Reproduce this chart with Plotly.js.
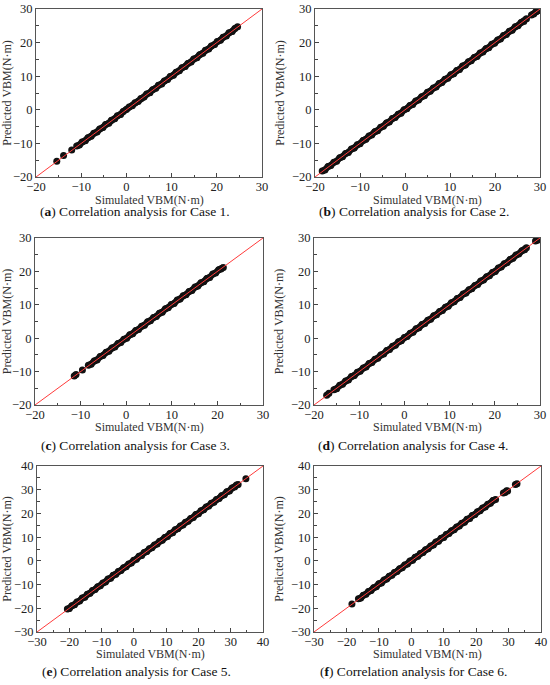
<!DOCTYPE html>
<html>
<head>
<meta charset="utf-8">
<script src="https://cdn.plot.ly/plotly-3.0.1.min.js"></script>
<style>html,body{margin:0;padding:0;background:#fff;}#chart{width:550px;height:685px;}</style>
</head>
<body>
<div id="chart"></div>
<script>
// ---- data ----
var caseLabels = ["a", "b", "c", "d", "e", "f"];
var caseNames = ["Case 1.", "Case 2.", "Case 3.", "Case 4.", "Case 5.", "Case 6."];
var axisRanges = [[-20, 30], [-20, 30], [-20, 30], [-20, 30], [-30, 40], [-30, 40]];

var sim1 = [-15.4,-13.9,-12.1,-11.0,-10.4,-9.8,-9.1,-8.5,-7.8,-7.2,-6.5,-5.9,-5.2,-4.6,-3.9,-3.3,-2.6,-2.0,-1.3,-0.7,0.0,0.6,1.3,1.9,2.6,3.2,3.9,4.5,5.2,5.8,6.5,7.1,7.8,8.4,9.1,9.7,10.4,11.0,11.7,12.3,13.0,13.6,14.3,14.9,15.6,16.2,16.9,17.5,18.2,18.8,19.5,20.1,20.8,21.4,22.1,22.7,23.4,24.0,24.6];
var pred1 = [-15.3,-13.6,-12.0,-10.8,-10.5,-9.6,-9.2,-8.3,-7.9,-7.0,-6.6,-5.7,-5.3,-4.4,-4.0,-3.1,-2.7,-1.8,-1.4,-0.5,0.1,0.8,1.2,2.1,2.5,3.4,3.8,4.7,5.1,6.0,6.4,7.3,7.7,8.6,9.0,9.9,10.3,11.2,11.6,12.5,12.9,13.8,14.2,15.1,15.5,16.4,16.8,17.7,18.1,19.0,19.4,20.3,20.7,21.6,22.0,22.9,23.3,24.2,24.7];

var sim2 = [-18.4,-17.8,-17.1,-16.5,-15.8,-15.2,-14.5,-13.9,-13.2,-12.6,-11.9,-11.3,-10.6,-10.0,-9.3,-8.7,-8.0,-7.4,-6.7,-6.1,-5.4,-4.8,-4.1,-3.5,-2.8,-2.2,-1.5,-0.9,-0.2,0.4,1.1,1.7,2.4,3.0,3.7,4.3,5.0,5.6,6.3,6.9,7.6,8.2,8.9,9.5,10.2,10.8,11.5,12.1,12.8,13.4,14.1,14.7,15.4,16.0,16.7,17.3,18.0,18.6,19.3,19.9,20.6,21.2,21.9,22.5,23.2,23.8,24.5,25.1,25.8,26.4,27.0,28.1,28.6,29.1,29.6];
var pred2 = [-18.2,-17.9,-16.9,-16.6,-15.6,-15.3,-14.3,-14.0,-13.0,-12.7,-11.7,-11.4,-10.4,-10.1,-9.1,-8.8,-7.8,-7.5,-6.5,-6.2,-5.2,-4.9,-3.9,-3.6,-2.6,-2.3,-1.3,-1.0,0.0,0.3,1.3,1.6,2.6,2.9,3.9,4.2,5.2,5.5,6.5,6.8,7.8,8.1,9.1,9.4,10.4,10.7,11.7,12.0,13.0,13.3,14.3,14.6,15.6,15.9,16.9,17.2,18.2,18.5,19.5,19.8,20.8,21.1,22.1,22.4,23.4,23.7,24.7,25.0,26.0,26.3,27.1,28.2,28.5,29.2,29.5];

var sim3 = [-11.4,-11.0,-9.6,-8.3,-7.7,-7.0,-6.4,-5.7,-5.1,-4.4,-3.8,-3.1,-2.5,-1.8,-1.2,-0.5,0.1,0.8,1.4,2.1,2.7,3.4,4.0,4.7,5.3,6.0,6.6,7.3,7.9,8.6,9.2,9.9,10.5,11.2,11.8,12.5,13.1,13.8,14.4,15.1,15.7,16.4,17.0,17.7,18.3,19.0,19.6,20.3,20.8,21.3];
var pred3 = [-11.3,-10.9,-9.5,-8.1,-7.8,-6.8,-6.5,-5.5,-5.2,-4.2,-3.9,-2.9,-2.6,-1.6,-1.3,-0.3,0.0,1.0,1.3,2.3,2.6,3.6,3.9,4.9,5.2,6.2,6.5,7.5,7.8,8.8,9.1,10.1,10.4,11.4,11.7,12.7,13.0,14.0,14.3,15.3,15.6,16.6,16.9,17.9,18.2,19.2,19.5,20.5,20.7,21.2];

var sim4 = [-17.2,-16.7,-15.6,-15.0,-14.3,-13.7,-13.0,-12.4,-11.7,-11.1,-10.4,-9.8,-9.1,-8.5,-7.8,-7.2,-6.5,-5.9,-5.2,-4.6,-3.9,-3.3,-2.6,-2.0,-1.3,-0.7,0.0,0.6,1.3,1.9,2.6,3.2,3.9,4.5,5.2,5.8,6.5,7.1,7.8,8.4,9.1,9.7,10.4,11.0,11.7,12.3,13.0,13.6,14.3,14.9,15.6,16.2,16.9,17.5,18.2,18.8,19.5,20.1,20.8,21.4,22.1,22.7,23.4,24.0,24.7,25.3,26.0,26.6,27.0,29.0,29.5];
var pred4 = [-17.1,-16.5,-15.4,-15.1,-14.1,-13.8,-12.8,-12.5,-11.5,-11.2,-10.2,-9.9,-8.9,-8.6,-7.6,-7.3,-6.3,-6.0,-5.0,-4.7,-3.7,-3.4,-2.4,-2.1,-1.1,-0.8,0.2,0.5,1.5,1.8,2.8,3.1,4.1,4.4,5.4,5.7,6.7,7.0,8.0,8.3,9.3,9.6,10.6,10.9,11.9,12.2,13.2,13.5,14.5,14.8,15.8,16.1,17.1,17.4,18.4,18.7,19.7,20.0,21.0,21.3,22.3,22.6,23.6,23.9,24.9,25.2,26.2,26.5,27.1,29.1,29.4];

var sim5 = [-20.6,-20.0,-19.2,-18.4,-17.6,-16.8,-16.0,-15.2,-14.4,-13.6,-12.8,-12.0,-11.2,-10.4,-9.6,-8.8,-8.0,-7.2,-6.4,-5.6,-4.8,-4.0,-3.2,-2.4,-1.6,-0.8,0.0,0.8,1.6,2.4,3.2,4.0,4.8,5.6,6.4,7.2,8.0,8.8,9.6,10.4,11.2,12.0,12.8,13.6,14.4,15.2,16.0,16.8,17.6,18.4,19.2,20.0,20.8,21.6,22.4,23.2,24.0,24.8,25.6,26.4,27.2,28.0,28.8,29.6,30.4,31.2,31.8,32.3,34.7];
var pred5 = [-20.3,-20.1,-18.9,-18.5,-17.3,-16.9,-15.7,-15.3,-14.1,-13.7,-12.5,-12.1,-10.9,-10.5,-9.3,-8.9,-7.7,-7.3,-6.1,-5.7,-4.5,-4.1,-2.9,-2.5,-1.3,-0.9,0.3,0.7,1.9,2.3,3.5,3.9,5.1,5.5,6.7,7.1,8.3,8.7,9.9,10.3,11.5,11.9,13.1,13.5,14.7,15.1,16.3,16.7,17.9,18.3,19.5,19.9,21.1,21.5,22.7,23.1,24.3,24.7,25.9,26.3,27.5,27.9,29.1,29.5,30.7,31.1,32.0,32.2,34.6];

var sim6 = [-18.3,-16.3,-15.6,-14.8,-14.0,-13.2,-12.4,-11.6,-10.8,-10.0,-9.2,-8.4,-7.6,-6.8,-6.0,-5.2,-4.4,-3.6,-2.8,-2.0,-1.2,-0.4,0.4,1.2,2.0,2.8,3.6,4.4,5.2,6.0,6.8,7.6,8.4,9.2,10.0,10.8,11.6,12.4,13.2,14.0,14.8,15.6,16.4,17.2,18.0,18.8,19.6,20.4,21.2,22.0,22.8,23.6,24.4,25.2,26.0,28.4,28.9,29.4,29.7,32.1,32.6];
var pred6 = [-18.2,-16.0,-15.7,-14.5,-14.1,-12.9,-12.5,-11.3,-10.9,-9.7,-9.3,-8.1,-7.7,-6.5,-6.1,-4.9,-4.5,-3.3,-2.9,-1.7,-1.3,-0.1,0.3,1.5,1.9,3.1,3.5,4.7,5.1,6.3,6.7,7.9,8.3,9.5,9.9,11.1,11.5,12.7,13.1,14.3,14.7,15.9,16.3,17.5,17.9,19.1,19.5,20.7,21.1,22.3,22.7,23.9,24.3,25.5,25.9,28.6,28.8,29.6,29.5,32.2,32.5];

var simulated = [sim1, sim2, sim3, sim4, sim5, sim6];
var predicted = [pred1, pred2, pred3, pred4, pred5, pred6];

var xTitle = "Simulated VBM(N·m)";
var yTitle = "Predicted VBM(N·m)";

// ---- layout geometry (pixels: left, right, top, bottom of each frame) ----
var W = 550, H = 685;
var frames = [
  [36, 262, 9, 177], [315, 540, 9, 177],
  [35, 263, 238, 405], [314, 540, 238, 405],
  [37, 263, 466, 632], [314, 541, 466, 632]
];
var captionY = [212, 212, 445, 445, 671, 671];
var xTitleOffset = [23, 23, 22, 22, 22, 22];

var FONT = "Liberation Serif";
var traces = [];
var layout = {
  width: W, height: H,
  margin: {l: 0, r: 0, t: 0, b: 0},
  paper_bgcolor: "#fff", plot_bgcolor: "#fff",
  showlegend: false,
  font: {family: FONT, size: 12, color: "#222"},
  annotations: []
};

// join the dense stretch of points into a band; break where consecutive points are far apart
function bandOf(xs, ys, maxStep) {
  var bx = [], by = [];
  for (var k = 0; k < xs.length; k++) {
    if (k > 0 && xs[k] - xs[k - 1] > maxStep) { bx.push(null); by.push(null); }
    bx.push(xs[k]); by.push(ys[k]);
  }
  return {x: bx, y: by};
}

for (var i = 0; i < 6; i++) {
  var n = i === 0 ? "" : String(i + 1);
  var f = frames[i];
  var axCommon = {
    range: axisRanges[i].slice(),
    dtick: 10, tick0: 0,
    ticks: "inside", ticklen: 4, tickwidth: 1, tickcolor: "#444",
    minor: {dtick: 5, ticks: "inside", ticklen: 2.5, tickcolor: "#444", tickwidth: 1},
    showline: true, linecolor: "#555", linewidth: 1, mirror: true,
    showgrid: false, zeroline: false,
    tickfont: {family: FONT, size: 12.5, color: "#222"},
    fixedrange: true
  };
  layout["xaxis" + n] = Object.assign({}, axCommon, {
    domain: [f[0] / W, f[1] / W],
    anchor: "y" + n,
    ticklabelstandoff: -2
  });
  layout["yaxis" + n] = Object.assign({}, axCommon, {
    domain: [1 - f[3] / H, 1 - f[2] / H],
    anchor: "x" + n,
    title: {text: yTitle, font: {family: FONT, size: 12, color: "#333"}, standoff: 4}
  });

  var band = bandOf(simulated[i], predicted[i], 1.0);
  traces.push({
    type: "scatter", mode: "lines",
    x: band.x, y: band.y, connectgaps: false,
    xaxis: "x" + n, yaxis: "y" + n,
    line: {color: "#111", width: 6.5},
    hoverinfo: "skip"
  });
  traces.push({
    type: "scatter", mode: "markers",
    x: simulated[i], y: predicted[i],
    xaxis: "x" + n, yaxis: "y" + n,
    marker: {color: "#111", size: 7, line: {width: 0}},
    hoverinfo: "skip"
  });
  traces.push({
    type: "scatter", mode: "lines",
    x: axisRanges[i], y: axisRanges[i],
    xaxis: "x" + n, yaxis: "y" + n,
    line: {color: "#ff3b3b", width: 1},
    hoverinfo: "skip"
  });

  // x-axis title (placed as annotation for exact position)
  layout.annotations.push({
    xref: "paper", yref: "paper",
    x: (f[0] + f[1]) / 2 / W, y: 1 - (f[3] + xTitleOffset[i]) / H,
    xanchor: "center", yanchor: "middle", showarrow: false,
    text: xTitle,
    font: {family: FONT, size: 12, color: "#333"}
  });

  layout.annotations.push({
    xref: "paper", yref: "paper",
    x: ((f[0] + f[1]) / 2 - 14) / W, y: 1 - captionY[i] / H,
    xanchor: "center", yanchor: "middle",
    showarrow: false,
    text: "(<b>" + caseLabels[i] + "</b>) Correlation analysis for " + caseNames[i],
    font: {family: FONT, size: 13.5, color: "#111"}
  });
}

Plotly.newPlot("chart", traces, layout, {displayModeBar: false, staticPlot: true});
</script>
</body>
</html>
